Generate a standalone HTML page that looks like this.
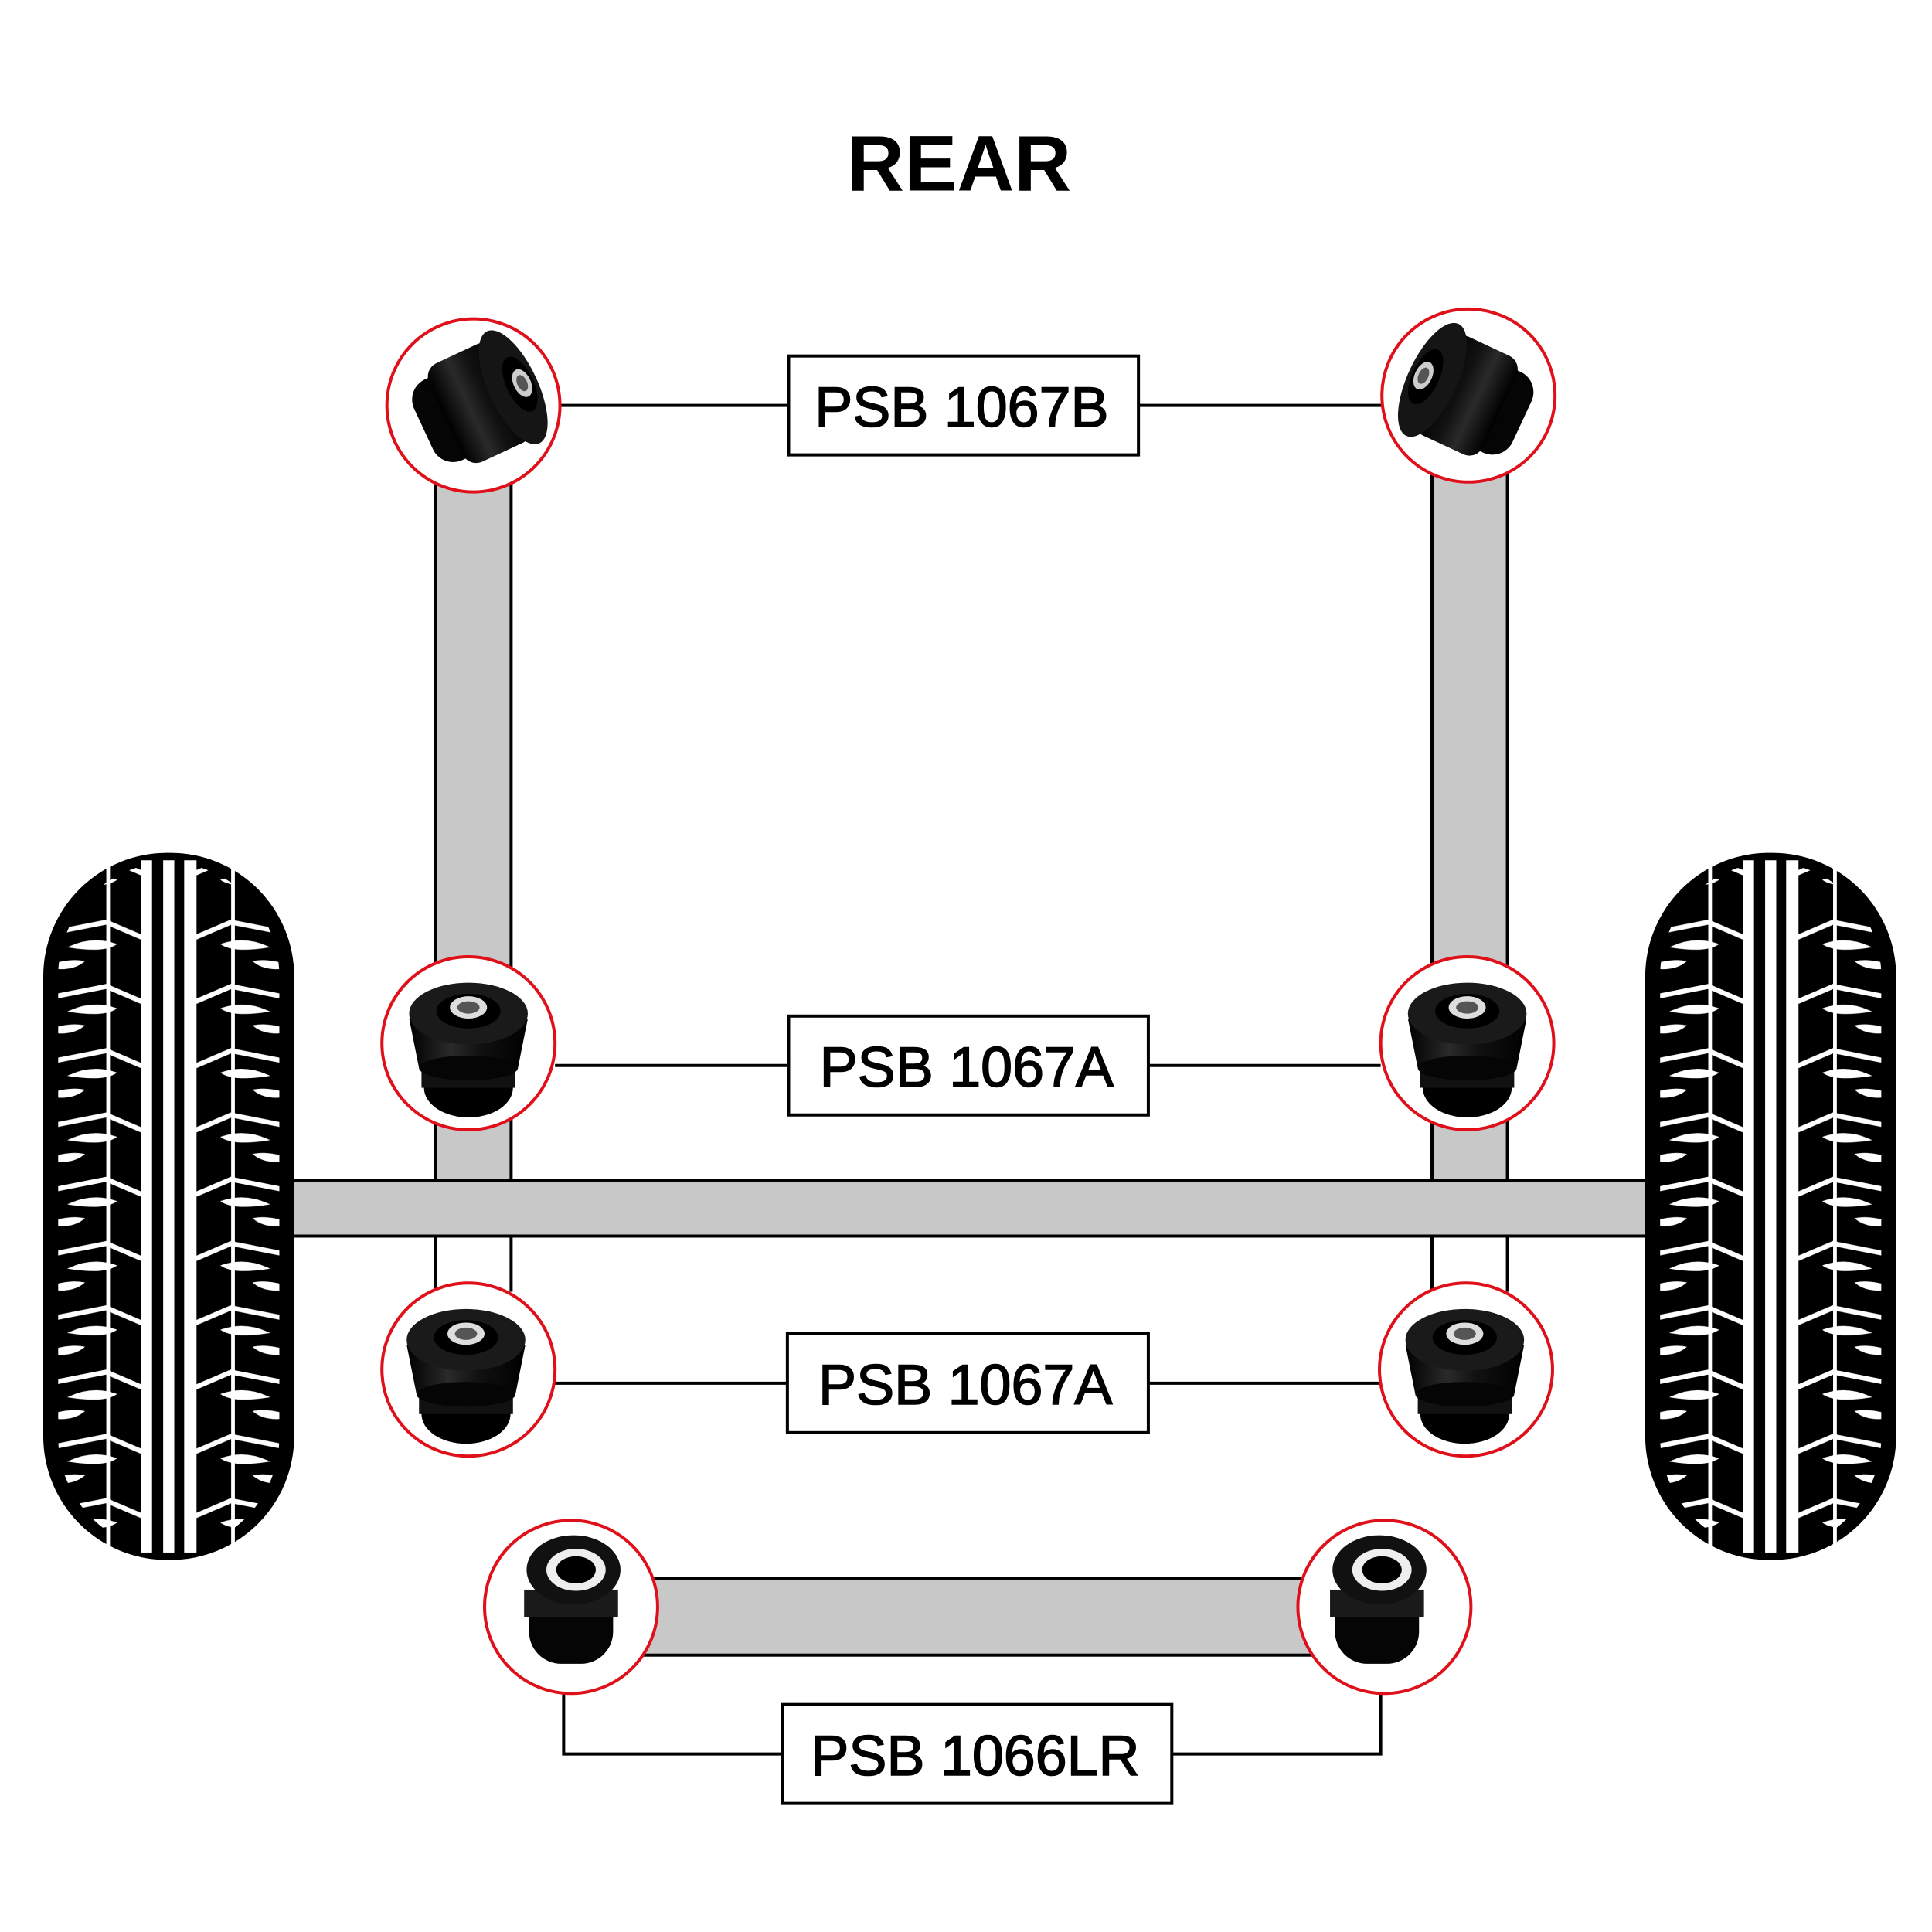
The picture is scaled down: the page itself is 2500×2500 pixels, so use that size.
<!DOCTYPE html>
<html><head><meta charset="utf-8"><style>html,body{margin:0;padding:0;background:#fff}svg{display:block}</style></head>
<body>
<svg width="2500" height="2500" viewBox="0 0 1563 1563" xmlns="http://www.w3.org/2000/svg">
<defs>
<linearGradient id="blk" x1="0" y1="0" x2="1" y2="0">
<stop offset="0" stop-color="#000"/><stop offset="0.35" stop-color="#2a2a2a"/><stop offset="0.6" stop-color="#111"/><stop offset="1" stop-color="#000"/>
</linearGradient>
<pattern id="tread" x="0" y="0" width="203" height="52" patternUnits="userSpaceOnUse">
<g stroke="#fff" fill="none" stroke-linecap="round">
<polyline points="0,14 51,4 79,16" stroke-width="4"/>
<path d="M22,24 Q40,16 58,22 Q48,28 22,24Z" fill="#fff" stroke-width="1.5"/>
<path d="M2,40 Q20,34 32,36 Q22,44 2,40Z" fill="#fff" stroke-width="1.5"/>
<polyline points="203,14 152,4 124,16" stroke-width="4"/>
<path d="M181,24 Q163,16 145,22 Q155,28 181,24Z" fill="#fff" stroke-width="1.5"/>
<path d="M201,40 Q183,34 171,36 Q181,44 201,40Z" fill="#fff" stroke-width="1.5"/>
</g>
</pattern>
<clipPath id="tc"><rect x="12" y="8" width="179" height="556" rx="92"/></clipPath>
<g id="tire">
<rect x="0" y="0" width="203" height="572" rx="100" fill="#000"/>
<rect x="12" y="8" width="179" height="556" fill="url(#tread)" clip-path="url(#tc)"/>
<rect x="51" y="10" width="3" height="552" fill="#fff"/>
<rect x="152" y="10" width="3" height="552" fill="#fff"/>
<rect x="79" y="6" width="9" height="560" fill="#fff"/>
<rect x="97" y="6" width="9" height="560" fill="#fff"/>
<rect x="114" y="6" width="10" height="560" fill="#fff"/>
</g>
<g id="bushA">
<ellipse cx="0" cy="40" rx="36" ry="24" fill="#000"/>
<rect x="-38" y="14" width="76" height="26" fill="#111"/>
<path d="M-48,-16 L48,-16 L40,24 L-40,24 Z" fill="url(#blk)"/>
<ellipse cx="0" cy="24" rx="40" ry="10" fill="#050505"/>
<ellipse cx="0" cy="-20" rx="48" ry="25" fill="#1a1a1a"/>
<ellipse cx="0" cy="-22" rx="26" ry="14" fill="#000"/>
<ellipse cx="0" cy="-25" rx="15" ry="9" fill="#ddd"/>
<ellipse cx="0" cy="-25" rx="9" ry="5" fill="#555"/>
</g>
<g id="bushL">
<rect x="-34" y="-20" width="68" height="70" rx="26" fill="#050505"/>
<rect x="-38" y="-10" width="76" height="22" fill="#1a1a1a"/>
<ellipse cx="2" cy="-26" rx="38" ry="28" fill="#111"/>
<ellipse cx="4" cy="-26" rx="24" ry="17" fill="#eee"/>
<ellipse cx="4" cy="-26" rx="16" ry="11" fill="#000"/>
</g>
<g id="bushB">
<g transform="rotate(-25)">
<rect x="-50" y="-36" width="40" height="72" rx="18" fill="#050505"/>
<rect x="-30" y="-44" width="60" height="88" rx="12" fill="url(#blk)"/>
<ellipse cx="30" cy="0" rx="20" ry="50" fill="#151515"/>
<ellipse cx="36" cy="0" rx="11" ry="24" fill="#000"/>
<ellipse cx="38" cy="0" rx="7" ry="12" fill="#ccc"/>
<ellipse cx="38" cy="0" rx="4" ry="7" fill="#555"/>
</g>
</g>
</defs>

<text x="776" y="154" text-anchor="middle" font-family="Liberation Sans, sans-serif" font-weight="bold" font-size="64">REAR</text>

<g stroke="#000" stroke-width="2.5">
<rect x="352.5" y="380" width="61" height="575" fill="#c8c8c8"/>
<rect x="1158.5" y="375" width="61" height="580" fill="#c8c8c8"/>
<line x1="352.5" y1="1000" x2="352.5" y2="1045"/><line x1="413.5" y1="1000" x2="413.5" y2="1045"/>
<line x1="1158.5" y1="1000" x2="1158.5" y2="1045"/><line x1="1219.5" y1="1000" x2="1219.5" y2="1045"/>
<rect x="230" y="955" width="1110" height="45" fill="#c8c8c8"/>
<rect x="515" y="1277" width="550" height="62" fill="#c8c8c8"/>
</g>

<use href="#tire" x="35" y="690"/>
<use href="#tire" x="1331" y="690"/>

<g stroke="#000" stroke-width="2.5" fill="none">
<line x1="453" y1="328" x2="638" y2="328"/><line x1="921" y1="328" x2="1118" y2="328"/>
<line x1="449" y1="862" x2="638" y2="862"/><line x1="929" y1="862" x2="1117" y2="862"/>
<line x1="449" y1="1119" x2="637" y2="1119"/><line x1="929" y1="1119" x2="1116" y2="1119"/>
<polyline points="456,1368 456,1419 633,1419"/><polyline points="1117,1368 1117,1419 948,1419"/>
</g>

<g fill="#fff" stroke="#e0101a" stroke-width="2.5">
<circle cx="383" cy="328" r="70"/><circle cx="1188" cy="320" r="70"/>
<circle cx="379" cy="844" r="70"/><circle cx="1187" cy="844" r="70"/>
<circle cx="379" cy="1108" r="70"/><circle cx="1186" cy="1108" r="70"/>
<circle cx="462" cy="1300" r="70"/><circle cx="1120" cy="1300" r="70"/>
</g>
<use href="#bushB" x="388" y="326"/>
<g transform="translate(1186,320) scale(-1,1)"><use href="#bushB"/></g>
<use href="#bushA" x="379" y="840"/>
<use href="#bushA" x="1187" y="840"/>
<use href="#bushA" x="377" y="1104"/>
<use href="#bushA" x="1185" y="1104"/>
<use href="#bushL" x="462" y="1296"/>
<use href="#bushL" x="1114" y="1296"/>

<g fill="#fff" stroke="#000" stroke-width="2.5">
<rect x="638" y="288" width="283" height="80"/>
<rect x="638" y="822" width="291" height="80"/>
<rect x="637" y="1079" width="292" height="80"/>
<rect x="633" y="1379" width="315" height="80"/>
</g>
<g font-family="Liberation Sans, sans-serif" font-size="46" text-anchor="middle" fill="#000" stroke="#000" stroke-width="1">
<text x="778" y="345">PSB 1067B</text>
<text x="782" y="879">PSB 1067A</text>
<text x="781" y="1136">PSB 1067A</text>
<text x="789" y="1436">PSB 1066LR</text>
</g>
</svg>
</body></html>
